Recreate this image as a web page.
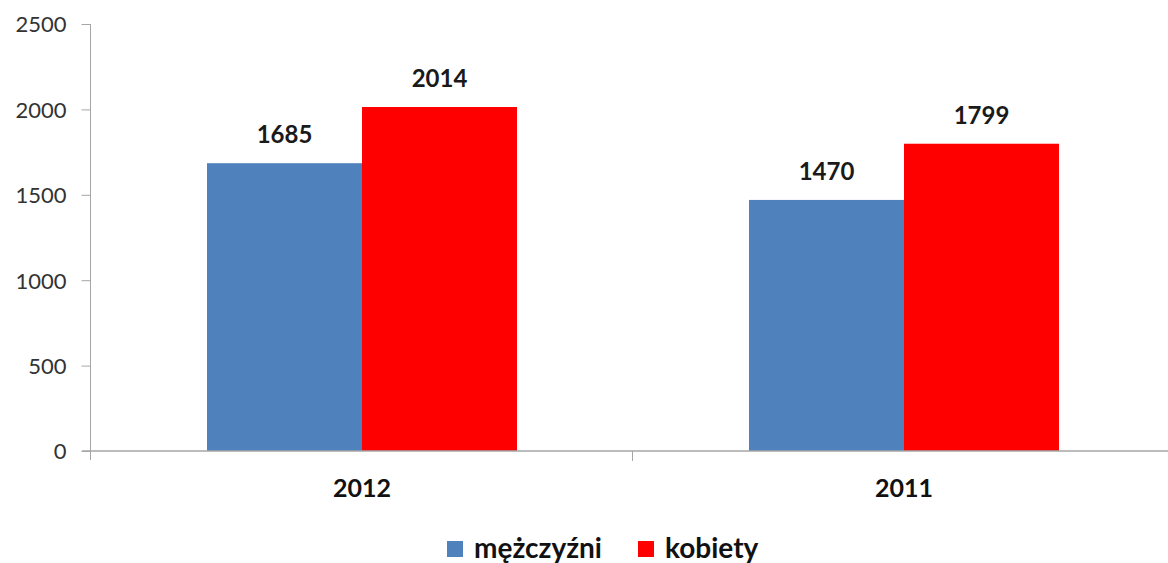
<!DOCTYPE html>
<html>
<head>
<meta charset="utf-8">
<script src="https://cdn.jsdelivr.net/npm/d3@7"></script>
<style>
  body { margin: 0; background: #fff; }
  svg { display: block; font-family: Lato, "Open Sans", sans-serif; }
</style>
</head>
<body>
<div id="chart"></div>
<script>
var years = ["2012", "2011"];
var seriesNames = ["mężczyźni", "kobiety"];
var seriesColors = ["#4f81bd", "#ff0000"];
var men = [1685, 1470];
var women = [2014, 1799];
var yTicks = [0, 500, 1000, 1500, 2000, 2500];

var width = 1168,
  height = 563;
var margin = { left: 91, top: 24 };
var plotRight = 1175;

var svg = d3
  .select("#chart")
  .append("svg")
  .attr("width", width)
  .attr("height", height);

var x = d3
  .scaleBand()
  .domain(years)
  .range([margin.left, plotRight]);

// the two bars take 310px of each 542px band
var barPad = (x.bandwidth() - 310) / 2;
var xInner = d3
  .scaleBand()
  .domain(seriesNames)
  .range([barPad, x.bandwidth() - barPad]);

var y = d3
  .scaleLinear()
  .domain([0, 2500])
  .range([451, margin.top]);

var rows = years.map(function(yr, i) {
  return { year: yr, values: [men[i], women[i]] };
});

// y axis
var axisColor = "#a6a6a6";
var yAxis = svg
  .append("g")
  .attr("transform", "translate(" + (margin.left - 0.5) + ",0)")
  .call(
    d3
      .axisLeft(y)
      .tickValues(yTicks)
      .tickFormat(d3.format("d"))
      .tickSize(9)
      .tickPadding(15)
  );
yAxis.select(".domain").remove();
yAxis.selectAll(".tick line").attr("stroke", axisColor);
yAxis
  .selectAll(".tick text")
  .attr("fill", "#333")
  .attr("font-size", "22px")
  .attr("font-family", "Lato, sans-serif")
  .attr("dy", "0.36em");

svg
  .append("line")
  .attr("x1", margin.left - 0.5)
  .attr("x2", margin.left - 0.5)
  .attr("y1", y(2500))
  .attr("y2", y(0) + 9)
  .attr("stroke", axisColor);

var bars = svg
  .selectAll("g.group")
  .data(rows)
  .enter()
  .append("g")
  .attr("class", "group")
  .attr("transform", function(d) {
    return "translate(" + x(d.year) + ",0)";
  });

bars
  .selectAll("rect")
  .data(function(d) {
    return d.values.map(function(v, i) {
      return { name: seriesNames[i], value: v, color: seriesColors[i] };
    });
  })
  .enter()
  .append("rect")
  .attr("x", function(d) {
    return xInner(d.name);
  })
  .attr("width", xInner.bandwidth())
  .attr("y", function(d) {
    return y(d.value);
  })
  .attr("height", function(d) {
    return y(0) - y(d.value);
  })
  .attr("fill", function(d) {
    return d.color;
  });

bars
  .selectAll("text.value")
  .data(function(d) {
    return d.values.map(function(v, i) {
      return { name: seriesNames[i], value: v };
    });
  })
  .enter()
  .append("text")
  .attr("class", "value")
  .attr("text-anchor", "middle")
  .attr("x", function(d) {
    return xInner(d.name) + xInner.bandwidth() / 2;
  })
  .attr("y", function(d) {
    return y(d.value) - 20;
  })
  .attr("font-size", "24px")
  .attr("font-weight", "bold")
  .attr("fill", "#1a1a1a")
  .text(function(d) {
    return d.value;
  });

// x axis
svg
  .append("line")
  .attr("x1", margin.left - 9)
  .attr("x2", width)
  .attr("y1", y(0))
  .attr("y2", y(0))
  .attr("stroke", axisColor)
  .attr("stroke-width", 1.5);

svg
  .selectAll("line.xtick")
  .data(years.slice(1))
  .enter()
  .append("line")
  .attr("class", "xtick")
  .attr("x1", function(d) {
    return x(d) - 0.5;
  })
  .attr("x2", function(d) {
    return x(d) - 0.5;
  })
  .attr("y1", y(0))
  .attr("y2", y(0) + 10)
  .attr("stroke", axisColor);

svg
  .selectAll("text.cat")
  .data(years)
  .enter()
  .append("text")
  .attr("class", "cat")
  .attr("text-anchor", "middle")
  .attr("x", function(d) {
    return x(d) + x.bandwidth() / 2;
  })
  .attr("y", 497)
  .attr("font-size", "25px")
  .attr("font-weight", "bold")
  .attr("fill", "#111")
  .text(function(d) {
    return d;
  });

// legend
var legendX = [447, 638];
var legend = svg
  .selectAll("g.legend")
  .data(seriesNames)
  .enter()
  .append("g")
  .attr("class", "legend")
  .attr("transform", function(d, i) {
    return "translate(" + legendX[i] + ",541)";
  });
legend
  .append("rect")
  .attr("width", 16)
  .attr("height", 16)
  .attr("fill", function(d, i) {
    return seriesColors[i];
  });
legend
  .append("text")
  .attr("x", 27)
  .attr("y", 17)
  .attr("font-size", "28px")
  .attr("font-weight", "bold")
  .attr("fill", "#111")
  .text(function(d) {
    return d;
  });
</script>
</body>
</html>
